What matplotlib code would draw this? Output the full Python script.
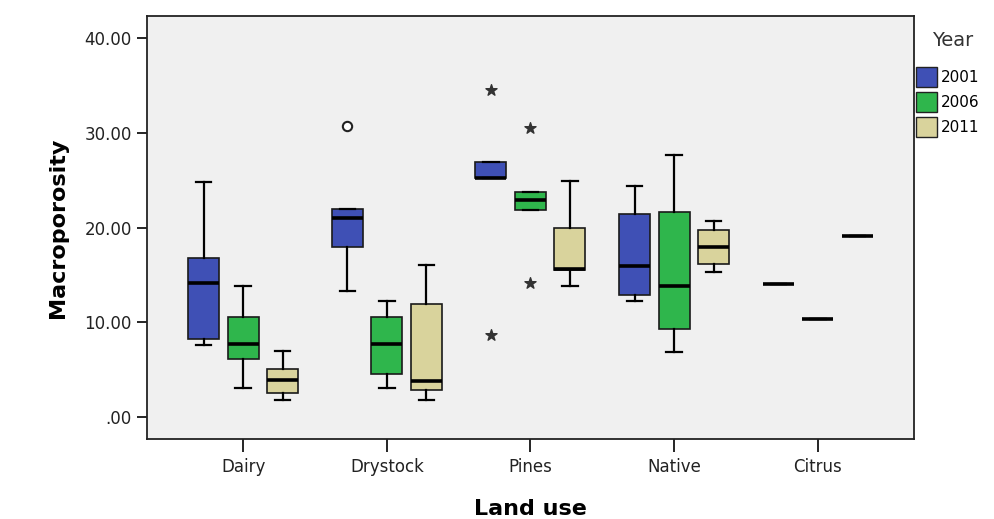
import matplotlib
matplotlib.use("Agg")
import matplotlib.pyplot as plt
from matplotlib.patches import Patch

# land use groups and survey years
categories = ["Dairy", "Drystock", "Pines", "Native", "Citrus"]
years = ["2001", "2006", "2011"]

# box statistics per year, one value per land use
whislo_2001 = [7.6, 13.3, 25.3, 12.3, 14.05]
q1_2001 = [8.3, 18.0, 25.3, 12.9, 14.05]
med_2001 = [14.2, 21.0, 25.3, 16.0, 14.05]
q3_2001 = [16.8, 22.0, 26.9, 21.4, 14.05]
whishi_2001 = [24.8, 22.0, 26.9, 24.45, 14.05]

whislo_2006 = [3.1, 3.1, 21.9, 6.9, 10.36]
q1_2006 = [6.1, 4.6, 21.9, 9.3, 10.36]
med_2006 = [7.7, 7.7, 22.9, 13.8, 10.36]
q3_2006 = [10.6, 10.6, 23.75, 21.7, 10.36]
whishi_2006 = [13.9, 12.3, 23.75, 27.7, 10.36]

whislo_2011 = [1.85, 1.85, 13.8, 15.3, 19.15]
q1_2011 = [2.6, 2.9, 15.5, 16.2, 19.15]
med_2011 = [3.9, 3.85, 15.6, 17.95, 19.15]
q3_2011 = [5.1, 11.9, 19.96, 19.8, 19.15]
whishi_2011 = [7.0, 16.1, 24.9, 20.7, 19.15]

# outliers (circle) and extremes (star): land use index, year index, value
outlier_cat = [1]
outlier_year = [0]
outlier_val = [30.7]
extreme_cat = [2, 2, 2, 2]
extreme_year = [0, 0, 1, 1]
extreme_val = [34.5, 8.7, 30.5, 14.2]

colors = ["#3f50b5", "#2fb64c", "#d9d39c"]
offsets = [-0.275, 0.0, 0.275]
box_w = 0.216

stats = {
    "2001": (whislo_2001, q1_2001, med_2001, q3_2001, whishi_2001),
    "2006": (whislo_2006, q1_2006, med_2006, q3_2006, whishi_2006),
    "2011": (whislo_2011, q1_2011, med_2011, q3_2011, whishi_2011),
}

fig = plt.figure(figsize=(9.95, 5.19), dpi=100)
ax = fig.add_axes([0.1477, 0.1541, 0.7709, 0.8151])
ax.set_facecolor("#f0f0f0")

for k, yr in enumerate(years):
    lo, q1, med, q3, hi = stats[yr]
    boxes = []
    for i in range(len(categories)):
        boxes.append({"whislo": lo[i], "q1": q1[i], "med": med[i],
                      "q3": q3[i], "whishi": hi[i], "fliers": []})
    pos = [i + offsets[k] for i in range(len(categories))]
    ax.bxp(boxes, positions=pos, widths=box_w, patch_artist=True,
           showfliers=False, capwidths=box_w * 0.5,
           boxprops=dict(facecolor=colors[k], edgecolor="#1a1a1a", linewidth=1.2),
           medianprops=dict(color="black", linewidth=2.6, solid_capstyle="butt"),
           whiskerprops=dict(color="black", linewidth=1.6),
           capprops=dict(color="black", linewidth=1.6))

ax.scatter([outlier_cat[i] + offsets[outlier_year[i]] for i in range(len(outlier_val))],
           outlier_val, marker="o", s=45, facecolors="white", edgecolors="#222222",
           linewidths=1.5, zorder=5)
ax.scatter([extreme_cat[i] + offsets[extreme_year[i]] for i in range(len(extreme_val))],
           extreme_val, marker="*", s=70, color="#333333", zorder=5)

ax.set_xlim(-0.67, 4.67)
ax.set_ylim(-2.3, 42.35)
ax.set_xticks(range(len(categories)))
ax.set_xticklabels(categories, fontsize=12, color="#222222")
ax.set_yticks([0, 10, 20, 30, 40])
ax.set_yticklabels([".00", "10.00", "20.00", "30.00", "40.00"], fontsize=12, color="#222222")
ax.tick_params(axis="both", direction="out", length=7, width=1.2, pad=4)
ax.tick_params(axis="x", length=9, pad=5)
for s in ax.spines.values():
    s.set_linewidth(1.3)
    s.set_color("#222222")

ax.set_xlabel("Land use", fontsize=16, fontweight="bold", labelpad=16)
ax.set_ylabel("Macroporosity", fontsize=16, fontweight="bold", labelpad=12)

fig.text(953 / 995, 1 - 40 / 519, "Year", fontsize=14, color="#333333",
         ha="center", va="center")
handles = [Patch(facecolor=colors[k], edgecolor="#222222", linewidth=1.0) for k in range(3)]
fig.legend(handles, years, loc="upper left",
           bbox_to_anchor=(916 / 995, 1 - 67 / 519), frameon=False, fontsize=11,
           handlelength=1.4, handleheight=1.6, handletextpad=0.2,
           labelspacing=0.35, borderaxespad=0, borderpad=0)

fig.savefig("out.png", dpi=100)
